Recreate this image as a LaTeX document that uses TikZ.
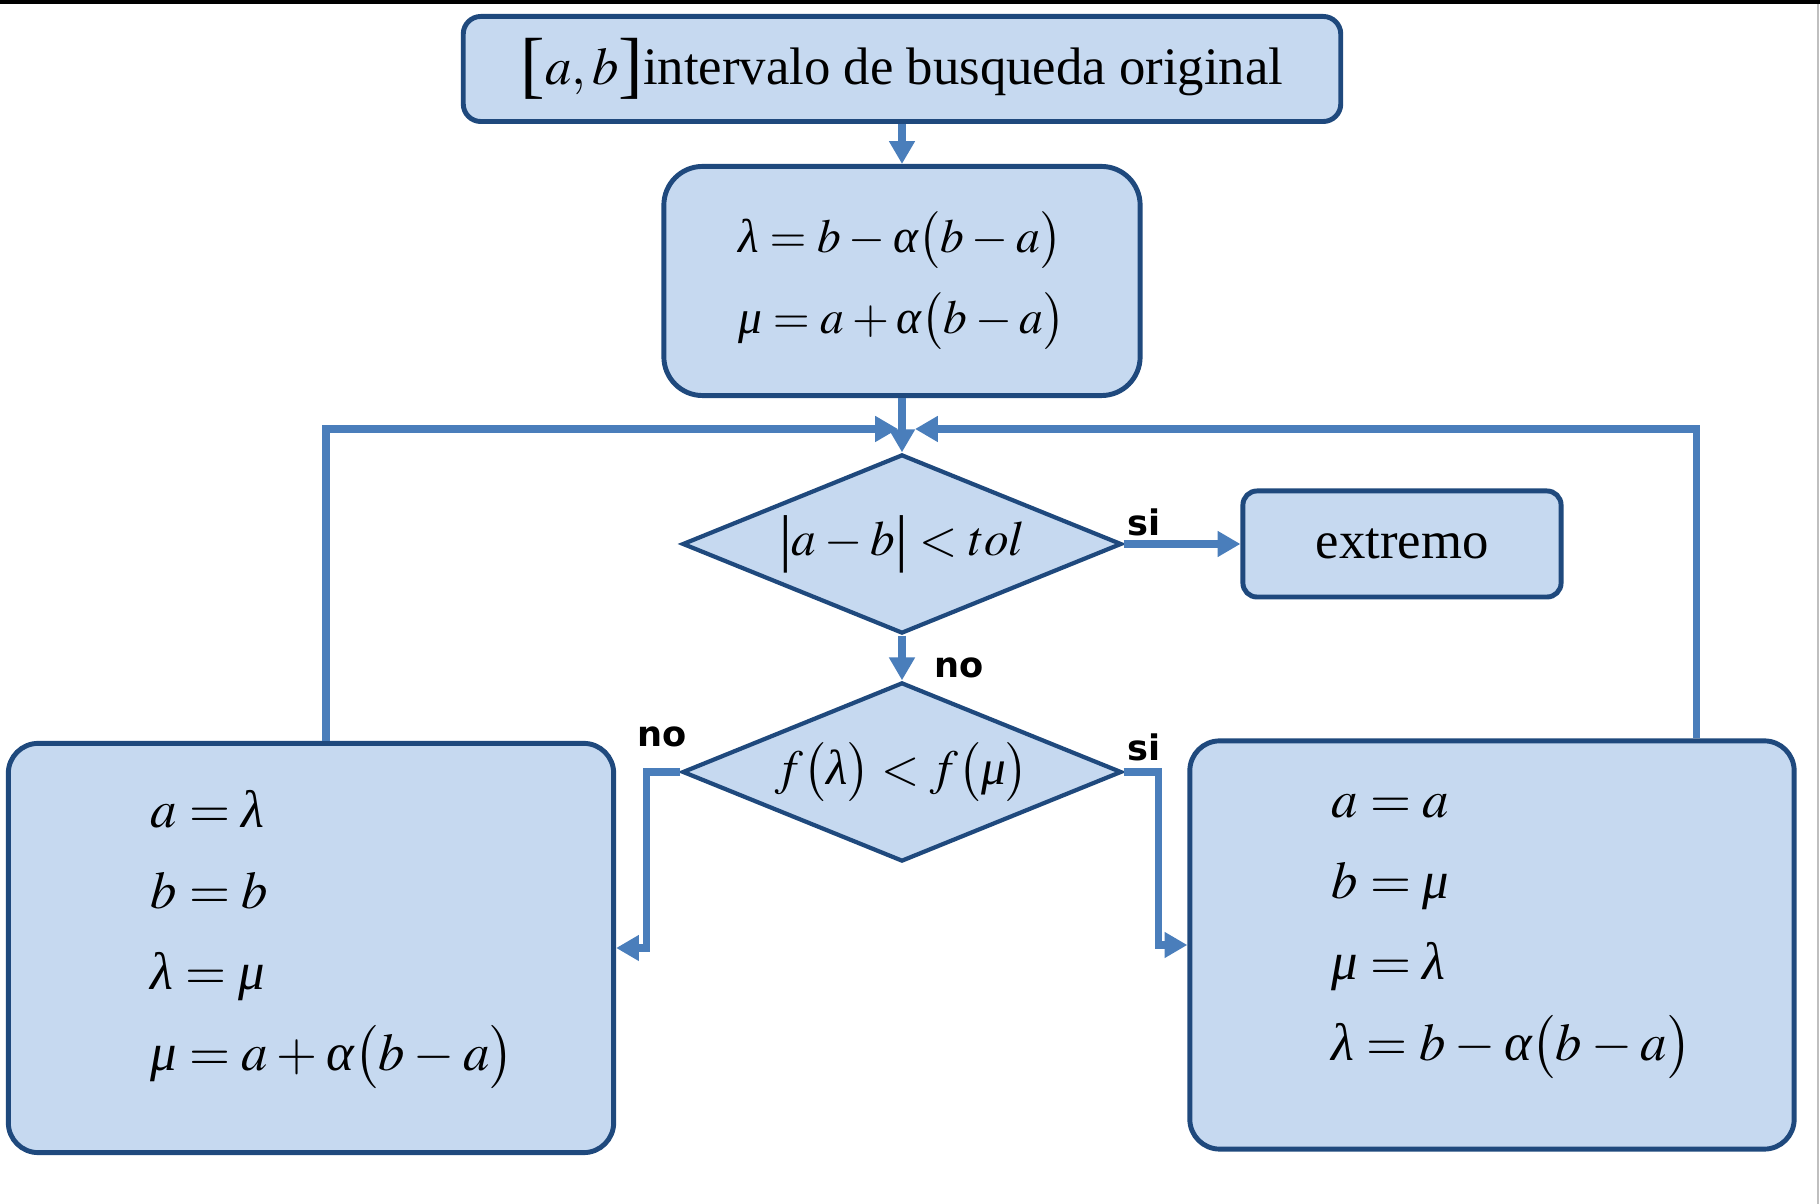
\documentclass[tikz,border=0pt]{standalone}
\usepackage{mathptmx}
\usepackage{fontspec}
\setmainfont{Liberation Serif}
\newfontfamily\lblfont{DejaVu Sans}
\usetikzlibrary{arrows.meta,positioning,shapes.geometric}
\definecolor{boxfill}{HTML}{C6D9F0}
\definecolor{boxline}{HTML}{1F497D}
\definecolor{flowline}{HTML}{4A7EBB}
% griegas en cursiva de texto (como Times)
\newcommand{\glam}{\mbox{\itshape λ}}
\newcommand{\gmu}{\mbox{\itshape μ}}
\newcommand{\galf}{\mbox{\itshape α}}
\newcommand{\eqn}[1]{\mbox{$#1$}}
\newcommand{\bajo}{\rule[-10pt]{0pt}{10pt}}
\newcommand{\corch}[1]{{\fontsize{21}{21}\selectfont\raisebox{-1.5pt}{#1}}}
\newcommand{\barra}{\mbox{\fontsize{18}{18}\selectfont\raisebox{-1pt}{|}}}
\thickmuskip=4mu plus 2mu
\medmuskip=3mu plus 1mu
\hbadness=10000 \hfuzz=200pt
\begin{document}
\begin{tikzpicture}[x=0.01cm,y=-0.01cm,>={Triangle[length=6.5pt,width=7pt]},
  every node/.style={font=\fontsize{15}{22}\selectfont},
  box/.style={draw=boxline,fill=boxfill,line width=1.4pt,inner sep=0pt,align=left},
  cond/.style={draw=boxline,fill=boxfill,line width=1.2pt,diamond,aspect=2.45,
    minimum width=4.39cm,minimum height=1.79cm,inner sep=0pt,font=\fontsize{14}{20}\selectfont},
  flow/.style={->,draw=flowline,line width=2pt},
  lbl/.style={font=\lblfont\bfseries\fontsize{10}{12}\selectfont,inner sep=0pt}]
  \useasboundingbox (0,0) rectangle (1820,1204);
  \draw[line width=1.2pt] (0,2) -- (1820,2);
  \draw[black!25,line width=0.6pt] (1818,4) -- (1818,1204);
  \node[box,rounded corners=5pt,minimum width=8.77cm,minimum height=1.05cm] (INI) at (902,69)
    {\corch{[}$a,b$\corch{]}intervalo de busqueda original};
  \node[box,rounded corners=11pt,minimum width=4.76cm,minimum height=2.29cm,
    font=\fontsize{13.5}{23}\selectfont] (LM) at (902,281)
    {$\glam=b-\galf\bigl(b-a\bigr)$\\$\gmu=a+\galf\bigl(b-a\bigr)$};
  \node[cond] (TOL) at (902,544) {$\barra a-b\barra<tol$};
  \node[box,rounded corners=4pt,minimum width=3.18cm,minimum height=1.06cm] (FIN) at (1402,544) {extremo};
  \node[cond] (CMP) at (902,772) {$f\bigl(\glam\bigr)<f\bigl(\gmu\bigr)$};
  \node[box,rounded corners=8.5pt,minimum width=6.05cm,minimum height=4.09cm,text width=3.2cm,
    font=\fontsize{15}{24}\selectfont] (IZQ) at (311,948)
    {\eqn{a=\glam}\\[-1pt]\eqn{b=b}\\[-1pt]\eqn{\glam=\gmu}\\[-1pt]\eqn{\gmu=a+\galf\bigl(b-a\bigr)}\bajo};
  \node[box,rounded corners=8.5pt,minimum width=6.04cm,minimum height=4.08cm,text width=3.2cm,
    font=\fontsize{15}{24}\selectfont] (DER) at (1492,945)
    {\eqn{a=a}\\[-1pt]\eqn{b=\gmu}\\[-1pt]\eqn{\gmu=\glam}\\[-1pt]\eqn{\glam=b-\galf\bigl(b-a\bigr)}\bajo};
  \coordinate (lj) at (898,429);
  \coordinate (rj) at (915,429);
  \draw[flow] (INI) -- (LM);
  \draw[flow] (LM) -- (TOL);
  \draw[flow] (TOL) -- (FIN);
  \draw[flow] (TOL) -- (CMP);
  \draw[flow] (CMP.west) -- ++(-34,0) |- (IZQ.east);
  \draw[flow] (CMP.east) -- ++(35,0) |- (DER.west);
  \draw[flow] ([xshift=0.15cm]IZQ.north) |- (lj);
  \draw[flow] ([xshift=2.04cm]DER.north) |- (rj);
  \node[lbl,anchor=south west] at ([xshift=1pt,yshift=2pt]TOL.east) {si};
  \node[lbl,anchor=west] at ([xshift=9pt,yshift=3.5pt]CMP.north) {no};
  \node[lbl,anchor=south east] at ([xshift=2pt,yshift=7pt]CMP.west) {no};
  \node[lbl,anchor=south west] at ([xshift=1pt,yshift=3pt]CMP.east) {si};
\end{tikzpicture}
\end{document}
